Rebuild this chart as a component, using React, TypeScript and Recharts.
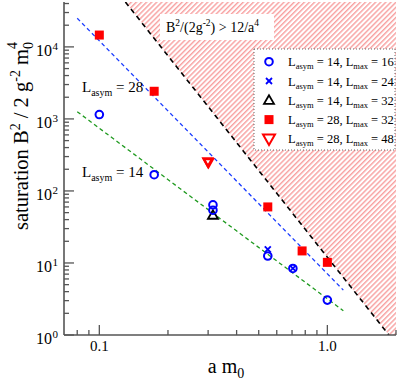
import React from "react";
import { ComposedChart, XAxis, YAxis, Scatter, Line, Area } from "recharts";

// ---------- data ----------
const circX = [0.1, 0.174, 0.315, 0.315, 0.548, 0.706, 1.0];
const circY = [1150, 168, 64, 54, 12.5, 8.4, 3.05];
const crossX = [0.548, 0.706];
const crossY = [15.5, 8.4];
const triUpX = [0.315];
const triUpY = [46];
const squareX = [0.1, 0.174, 0.548, 0.775, 1.0];
const squareY = [14600, 2420, 60, 14.7, 10.2];
const triDownX = [0.299, 0.301];
const triDownY = [253, 247];

const fitX = [0.08, 1.175];
const fitBlueY = [25000, 4.2];
const fitGreenY = [1260, 2.17];

const boundX = [0.1301, 1.861, 2.0];
const boundY = [42000, 1, 1];

const xTicks = [0.08, 0.09, 0.1, 0.2, 0.3, 0.4, 0.5, 0.6, 0.7, 0.8, 0.9, 1, 2];
const xMajor = [0.1, 1];
const xMajorLabels = ["0.1", "1.0"];
const yDecades = [1, 10, 100, 1000, 10000];
const yExponents = ["0", "1", "2", "3", "4"];
const yMinorMult = [2, 3, 4, 5, 6, 7, 8, 9];

const legendNames = [
  ["14", "16"],
  ["14", "24"],
  ["14", "32"],
  ["28", "32"],
  ["28", "48"],
];
const legendShapes = ["circle", "cross", "triUp", "square", "triDownOpen"];

const X_DOMAIN = [0.07, 2];
const Y_MAX = 42000;
const Y_DOMAIN = [1, Y_MAX];

// ---------- derived ----------
const yTicks = yDecades
  .flatMap((d) => [d, ...yMinorMult.map((m) => d * m)])
  .filter((v) => v <= 40000);
const toPts = (xs: number[], ys: number[]) => xs.map((x, i) => ({ x, y: ys[i] }));
const circData = toPts(circX, circY);
const crossData = toPts(crossX, crossY);
const triUpData = toPts(triUpX, triUpY);
const squareData = toPts(squareX, squareY);
const triDownData = toPts(triDownX, triDownY);
const blueFit = toPts(fitX, fitBlueY);
const greenFit = toPts(fitX, fitGreenY);
const boundData = boundX.map((x, i) => ({ x, hatch: boundY[i] }));
const boundLine = toPts(boundX.slice(0, 2), boundY.slice(0, 2));

const FONT = "'Liberation Serif', 'Times New Roman', serif";
const AXIS = "#555";
const BLUE = "#0000ff";
const RED = "#ff0000";

// ---------- markers ----------
const Marker = ({ kind, cx, cy }: { kind: string; cx: number; cy: number }) => {
  switch (kind) {
    case "circle":
      return <circle cx={cx} cy={cy} r={3.8} fill="none" stroke={BLUE} strokeWidth={2} />;
    case "cross":
      return (
        <g stroke={BLUE} strokeWidth={1.8}>
          <line x1={cx - 3} y1={cy - 3} x2={cx + 3} y2={cy + 3} />
          <line x1={cx - 3} y1={cy + 3} x2={cx + 3} y2={cy - 3} />
        </g>
      );
    case "triUp":
      return (
        <polygon
          points={`${cx},${cy - 5} ${cx - 5},${cy + 3.5} ${cx + 5},${cy + 3.5}`}
          fill="none"
          stroke="#000"
          strokeWidth={1.8}
        />
      );
    case "square":
      return <rect x={cx - 4.5} y={cy - 4.5} width={9} height={9} fill={RED} />;
    case "triDown":
      return (
        <polygon
          points={`${cx - 4.5},${cy - 3.5} ${cx + 4.5},${cy - 3.5} ${cx},${cy + 4.5}`}
          fill="none"
          stroke={RED}
          strokeWidth={2.2}
        />
      );
    case "triDownOpen":
      return (
        <polygon
          points={`${cx - 6},${cy - 4.5} ${cx + 6},${cy - 4.5} ${cx},${cy + 6}`}
          fill="none"
          stroke={RED}
          strokeWidth={2}
        />
      );
  }
  return null;
};

const shapeFor = (kind: string) => (p: any) => <Marker kind={kind} cx={p.cx} cy={p.cy} />;

// ---------- ticks ----------
const BottomTick = (p: any) => {
  const v = p.payload.value;
  const mi = xMajor.indexOf(v);
  return (
    <g>
      <line x1={p.x} x2={p.x} y1={p.y} y2={p.y - (mi >= 0 ? 10 : 5)} stroke={AXIS} strokeWidth={1.3} />
      {mi >= 0 && (
        <text x={p.x} y={p.y + 16} textAnchor="middle" fontFamily={FONT} fontSize={15} fill="#000">
          {xMajorLabels[mi]}
        </text>
      )}
    </g>
  );
};
const TopTick = (p: any) => {
  const v = p.payload.value;
  const major = xMajor.indexOf(v) >= 0;
  return <line x1={p.x} x2={p.x} y1={p.y} y2={p.y + (major ? 10 : 5)} stroke={AXIS} strokeWidth={1.3} />;
};
const LeftTick = (p: any) => {
  const v = p.payload.value;
  const di = yDecades.indexOf(v);
  return (
    <g>
      <line x1={p.x} x2={p.x + (di >= 0 ? 10 : 5)} y1={p.y} y2={p.y} stroke={AXIS} strokeWidth={1.3} />
      {di >= 0 && (
        <g fontFamily={FONT} fill="#000">
          <text x={52} y={p.y + 9} textAnchor="end" fontSize={16}>
            10
          </text>
          <text x={52.5} y={p.y + 3} textAnchor="start" fontSize={11}>
            {yExponents[di]}
          </text>
        </g>
      )}
    </g>
  );
};
const RightTick = (p: any) => {
  const v = p.payload.value;
  const major = yDecades.indexOf(v) >= 0;
  return <line x1={p.x} x2={p.x - (major ? 10 : 5)} y1={p.y} y2={p.y} stroke={AXIS} strokeWidth={1.3} />;
};

// ---------- overlay texts ----------
const LLabel = ({ x, y, val }: { x: number; y: number; val: string }) => (
  <text x={x} y={y} fontFamily={FONT} fontSize={15} fill="#000">
    L
    <tspan fontSize={10} dy={4}>asym</tspan>
    <tspan dy={-4}>{` = ${val}`}</tspan>
  </text>
);

const Overlay = () => (
  <svg
    width={399}
    height={383}
    style={{ position: "absolute", left: 0, top: 0, pointerEvents: "none" }}
  >
    {/* annotation */}
    <rect x={160} y={14} width={114} height={26} fill="#fff" />
    <text x={166} y={32} fontFamily={FONT} fontSize={14} fill="#000">
      B<tspan fontSize={9.5} dy={-6}>2</tspan>
      <tspan dy={6}>/(2g</tspan>
      <tspan fontSize={9.5} dy={-6}>-2</tspan>
      <tspan dy={6}>{") > 12/a"}</tspan>
      <tspan fontSize={9.5} dy={-6}>4</tspan>
    </text>

    {/* legend */}
    <rect x={254} y={49} width={141} height={101} fill="#fff" stroke="#666" strokeWidth={1} strokeDasharray="1 2" />
    {legendNames.map((n, i) => {
      const cy = 61.7 + i * 19.3;
      return (
        <g key={i}>
          <Marker kind={legendShapes[i]} cx={269} cy={cy} />
          <text x={288} y={cy + 4.5} fontFamily={FONT} fontSize={12.5} fill="#000">
            L<tspan fontSize={8.5} dy={3}>asym</tspan>
            <tspan dy={-3}>{` = ${n[0]}, L`}</tspan>
            <tspan fontSize={8.5} dy={3}>max</tspan>
            <tspan dy={-3}>{` = ${n[1]}`}</tspan>
          </text>
        </g>
      );
    })}

    <LLabel x={82} y={92} val="28" />
    <LLabel x={82} y={177} val="14" />

    {/* axis titles */}
    <text x={226} y={373} textAnchor="middle" fontFamily={FONT} fontSize={20} fill="#000">
      a m<tspan fontSize={14} dy={5}>0</tspan>
    </text>
    <text
      transform="translate(28,136) rotate(-90)"
      x={0}
      y={0}
      textAnchor="middle"
      fontFamily={FONT}
      fontSize={20.5}
      fill="#000"
    >
      {"saturation  B"}
      <tspan fontSize={14} dy={-8}>2</tspan>
      <tspan dy={8}>{" / 2 g"}</tspan>
      <tspan fontSize={14} dy={-8}>-2</tspan>
      <tspan dy={8}>{" m"}</tspan>
      <tspan fontSize={14} dy={5}>0</tspan>
      <tspan fontSize={14} dx={-7} dy={-16}>4</tspan>
    </text>
  </svg>
);

export default function App() {
  return (
    <div style={{ position: "absolute", left: 0, top: 0, width: 399, height: 383, background: "#fff" }}>
      <svg width={0} height={0} style={{ position: "absolute" }}>
        <defs>
          <pattern id="hatch" patternUnits="userSpaceOnUse" width={3.6} height={3.6} patternTransform="rotate(45)">
            <line x1={0.8} y1={0} x2={0.8} y2={3.6} stroke="#f04848" strokeWidth={0.75} />
          </pattern>
        </defs>
      </svg>
      <ComposedChart
        width={399}
        height={383}
        data={boundData}
        margin={{ top: 2, right: 3, bottom: 0, left: 0 }}
      >
        <XAxis
          dataKey="x"
          type="number"
          scale="log"
          domain={X_DOMAIN}
          allowDataOverflow
          ticks={xTicks}
          interval={0}
          tickSize={0}
          tickMargin={0}
          tickLine={false}
          tick={BottomTick}
          height={48}
          axisLine={{ stroke: AXIS, strokeWidth: 1.6 }}
        />
        <XAxis
          xAxisId="top"
          orientation="top"
          dataKey="x"
          type="number"
          scale="log"
          domain={X_DOMAIN}
          allowDataOverflow
          ticks={xTicks}
          interval={0}
          tickSize={0}
          tickMargin={0}
          tickLine={false}
          tick={TopTick}
          height={0}
          axisLine={{ stroke: AXIS, strokeWidth: 1.6 }}
        />
        <YAxis
          type="number"
          scale="log"
          domain={Y_DOMAIN}
          allowDataOverflow
          ticks={yTicks}
          interval={0}
          tickSize={0}
          tickMargin={0}
          tickLine={false}
          tick={LeftTick}
          width={64}
          axisLine={{ stroke: AXIS, strokeWidth: 1.6 }}
        />
        <YAxis
          yAxisId="right"
          orientation="right"
          type="number"
          scale="log"
          domain={Y_DOMAIN}
          allowDataOverflow
          ticks={yTicks}
          interval={0}
          tickSize={0}
          tickMargin={0}
          tickLine={false}
          tick={RightTick}
          width={0}
          axisLine={{ stroke: AXIS, strokeWidth: 1.6 }}
        />
        <Area
          dataKey="hatch"
          type="linear"
          baseValue={Y_MAX}
          fill="url(#hatch)"
          fillOpacity={1}
          stroke="none"
          connectNulls
          isAnimationActive={false}
          dot={false}
          activeDot={false}
        />
        <Line
          data={boundLine}
          dataKey="y"
          type="linear"
          stroke="#000"
          strokeWidth={1.6}
          strokeDasharray="5 4"
          dot={false}
          activeDot={false}
          isAnimationActive={false}
        />
        <Line
          data={blueFit}
          dataKey="y"
          type="linear"
          stroke="#1a3cff"
          strokeWidth={1.3}
          strokeDasharray="4 3"
          dot={false}
          activeDot={false}
          isAnimationActive={false}
        />
        <Line
          data={greenFit}
          dataKey="y"
          type="linear"
          stroke="#1f9a1f"
          strokeWidth={1.3}
          strokeDasharray="4 3"
          dot={false}
          activeDot={false}
          isAnimationActive={false}
        />
        <Scatter data={squareData} dataKey="y" shape={shapeFor("square")} isAnimationActive={false} />
        <Scatter data={triDownData} dataKey="y" shape={shapeFor("triDown")} isAnimationActive={false} />
        <Scatter data={triUpData} dataKey="y" shape={shapeFor("triUp")} isAnimationActive={false} />
        <Scatter data={circData} dataKey="y" shape={shapeFor("circle")} isAnimationActive={false} />
        <Scatter data={crossData} dataKey="y" shape={shapeFor("cross")} isAnimationActive={false} />
      </ComposedChart>
      <Overlay />
    </div>
  );
}
